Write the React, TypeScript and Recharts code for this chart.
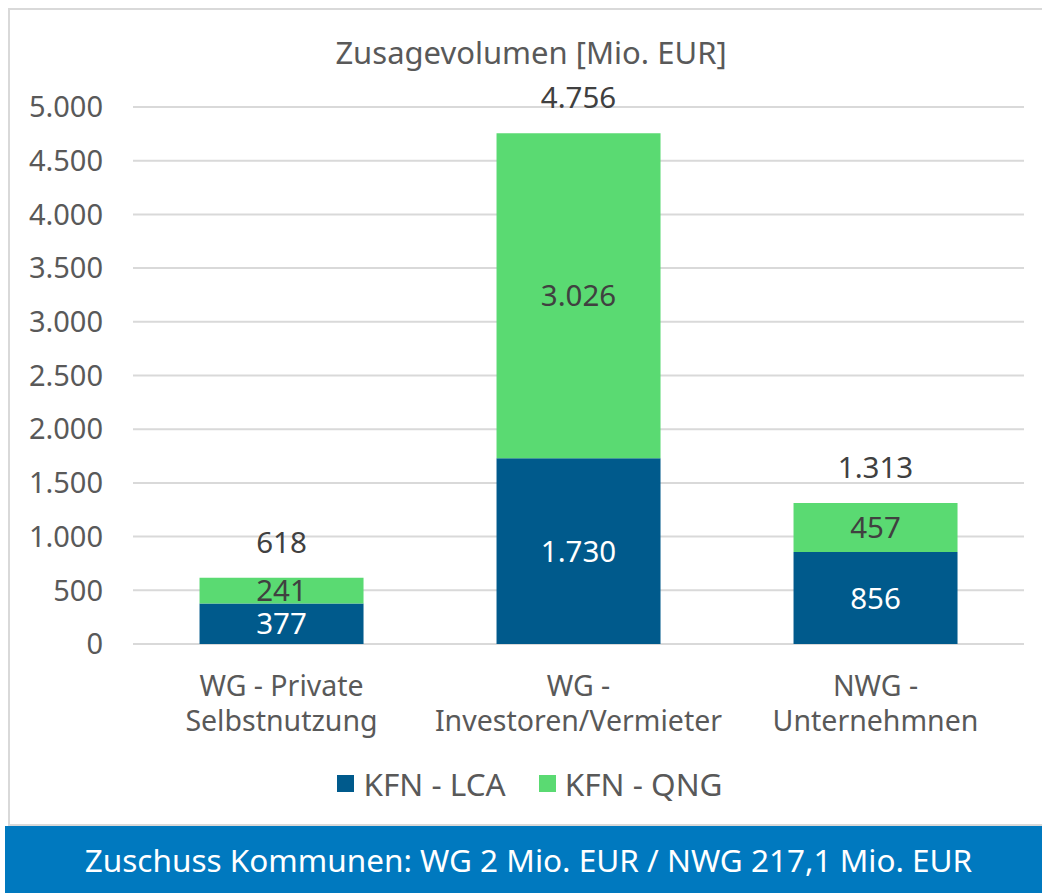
import { Bar, BarChart, CartesianGrid, LabelList, Legend, XAxis, YAxis } from "recharts";

const categories = ["WG - Private|Selbstnutzung", "WG -|Investoren/Vermieter", "NWG -|Unternehmnen"];
const lcaValues = [377, 1730, 856];
const qngValues = [241, 3026, 457];
const totals = [618, 4756, 1313];
const yTicks = [0, 500, 1000, 1500, 2000, 2500, 3000, 3500, 4000, 4500, 5000];

const FONT = "'Noto Sans', sans-serif";
const GRAY = "#595959";
const LCA_COLOR = "#005A8C";
const QNG_COLOR = "#5ADA72";

const data = categories.map((name, i) => ({
  name,
  lca: lcaValues[i],
  qng: qngValues[i],
  total: totals[i],
}));

function fmt(v: number) {
  return new Intl.NumberFormat("de-DE").format(v);
}

function CategoryTick(props: any) {
  const { x, y, payload } = props;
  const lines = String(payload.value).split("|");
  return (
    <text x={x} y={y} textAnchor="middle" fill={GRAY} fontSize={28.5} fontFamily={FONT}>
      {lines.map((line, i) => (
        <tspan key={i} x={x} dy={i === 0 ? 44 : 35}>
          {line}
        </tspan>
      ))}
    </text>
  );
}

function LegendContent(props: any) {
  const items = props.payload || [];
  return (
    <div style={{ display: "flex", justifyContent: "center", gap: 33, paddingLeft: 36, height: 36, alignItems: "center" }}>
      {items.map((it: any) => (
        <div key={it.value} style={{ display: "flex", alignItems: "center", gap: 9 }}>
          <span style={{ width: 17, height: 17, background: it.color, display: "inline-block" }} />
          <span style={{ color: GRAY, fontSize: 31.5, fontFamily: FONT }}>{it.value}</span>
        </div>
      ))}
    </div>
  );
}

export default function App() {
  return (
    <div style={{ position: "absolute", left: 0, top: 0, width: 1042, height: 893, background: "#fff", fontFamily: FONT }}>
      <div
        style={{
          position: "absolute",
          left: 8,
          top: 8,
          width: 1040,
          height: 818,
          border: "2px solid #d9d9d9",
          boxSizing: "border-box",
        }}
      />
      <div
        style={{
          position: "absolute",
          left: 0,
          top: 31,
          width: 1062,
          textAlign: "center",
          fontSize: 31,
          color: GRAY,
        }}
      >
        Zusagevolumen [Mio. EUR]
      </div>
      <div style={{ position: "absolute", left: 0, top: 0 }}>
        <BarChart
          width={1042}
          height={826}
          data={data}
          margin={{ top: 107, right: 18, bottom: 25, left: 0 }}
          barCategoryGap="22.4%"
        >
          <CartesianGrid vertical={false} stroke="#d9d9d9" strokeWidth={2} />
          <XAxis dataKey="name" axisLine={false} tickLine={false} height={121} tick={<CategoryTick />} interval={0} />
          <YAxis
            domain={[0, 5000]}
            ticks={yTicks}
            width={133}
            axisLine={false}
            tickLine={false}
            tickMargin={24}
            tickFormatter={fmt}
            tick={{ fill: GRAY, fontSize: 29, fontFamily: FONT }}
          />
          <Legend verticalAlign="bottom" align="center" height={36} content={<LegendContent />} />
          <Bar dataKey="lca" name="KFN - LCA" stackId="a" fill={LCA_COLOR} isAnimationActive={false}>
            <LabelList dataKey="lca" position="center" formatter={(v: any) => fmt(Number(v))} fill="#ffffff" fontSize={29.5} fontFamily={FONT} />
          </Bar>
          <Bar dataKey="qng" name="KFN - QNG" stackId="a" fill={QNG_COLOR} isAnimationActive={false}>
            <LabelList dataKey="qng" position="center" formatter={(v: any) => fmt(Number(v))} fill="#404040" fontSize={29.5} fontFamily={FONT} />
            <LabelList dataKey="total" position="top" offset={25} formatter={(v: any) => fmt(Number(v))} fill="#404040" fontSize={29.5} fontFamily={FONT} />
          </Bar>
        </BarChart>
      </div>
      <div
        style={{
          position: "absolute",
          left: 5,
          top: 826,
          width: 1037,
          height: 67,
          paddingLeft: 10,
          boxSizing: "border-box",
          background: "#0079BF",
          color: "#fff",
          fontSize: 31.5,
          lineHeight: "67px",
          textAlign: "center",
        }}
      >
        Zuschuss Kommunen: WG 2 Mio. EUR / NWG 217,1 Mio. EUR
      </div>
    </div>
  );
}
